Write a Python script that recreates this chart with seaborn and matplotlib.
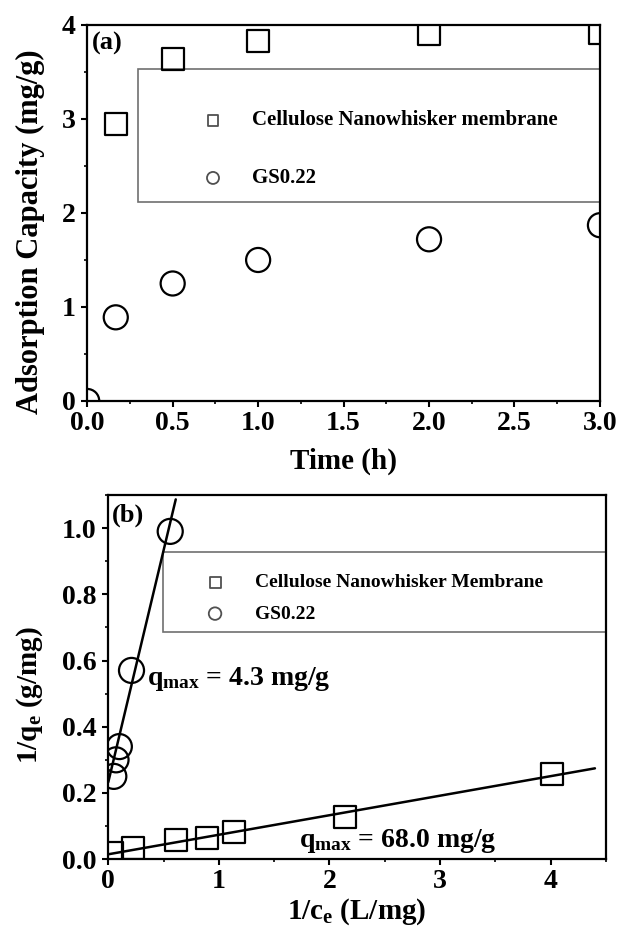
import numpy as np
import pandas as pd
import matplotlib
matplotlib.use("Agg")
import matplotlib.pyplot as plt
import seaborn as sns
from matplotlib.ticker import MultipleLocator
from matplotlib.patches import Rectangle

# ---------------- data ----------------
# (a) adsorption kinetics
time_cnw = [0.167, 0.5, 1.0, 2.0, 3.0]
cap_cnw = [2.95, 3.64, 3.83, 3.90, 3.91]
time_gs = [0.0, 0.167, 0.5, 1.0, 2.0, 3.0]
cap_gs = [0.0, 0.89, 1.25, 1.50, 1.72, 1.87]
labels_a = ["Cellulose Nanowhisker membrane", "GS0.22"]

# (b) Langmuir linearisation
inv_ce_cnw = [0.03, 0.22, 0.61, 0.89, 1.14, 2.14, 4.01]
inv_qe_cnw = [0.020, 0.033, 0.058, 0.063, 0.083, 0.128, 0.257]
inv_ce_gs = [0.05, 0.07, 0.10, 0.21, 0.56]
inv_qe_gs = [0.25, 0.30, 0.34, 0.57, 0.99]
labels_b = ["Cellulose Nanowhisker Membrane", "GS0.22"]

# fitted lines (intercept = 1/qmax, slope, x-extent)
fit_gs = dict(intercept=0.2326, slope=1.40, x=[0.0, 0.61])
fit_cnw = dict(intercept=0.0147, slope=0.0590, x=[0.0, 4.40])
qmax_texts = [r"q$_{\mathrm{max}}$ = 4.3 mg/g", r"q$_{\mathrm{max}}$ = 68.0 mg/g"]

# ---------------- style ----------------
sns.set_theme(style="ticks")
plt.rcParams["font.family"] = ["Liberation Serif", "DejaVu Serif"]
plt.rcParams["font.weight"] = "bold"
plt.rcParams["axes.labelweight"] = "bold"
plt.rcParams["text.color"] = "black"
plt.rcParams["axes.labelcolor"] = "black"
plt.rcParams["xtick.color"] = "black"
plt.rcParams["ytick.color"] = "black"
plt.rcParams["axes.edgecolor"] = "black"
plt.rcParams["mathtext.fontset"] = "custom"
plt.rcParams["mathtext.rm"] = "Liberation Serif:bold"
plt.rcParams["mathtext.it"] = "Liberation Serif:italic:bold"
plt.rcParams["mathtext.bf"] = "Liberation Serif:bold"

fig = plt.figure(figsize=(6.23, 9.36), dpi=100)
ax1 = fig.add_axes([0.140, 0.5716, 0.823, 0.4017])
ax2 = fig.add_axes([0.1738, 0.0821, 0.7989, 0.3891])

def style_axes(ax):
    for sp in ax.spines.values():
        sp.set_linewidth(1.6)
        sp.set_color("black")
    ax.tick_params(which="major", direction="out", length=4.5, width=1.5,
                   labelsize=20, top=False, right=False, colors="black")
    ax.tick_params(which="minor", direction="out", length=2.5, width=1.2,
                   top=False, right=False, colors="black")
    ax.tick_params(axis="x", which="major", pad=2.5)
    ax.tick_params(axis="y", which="major", pad=4)
    for lab in ax.get_xticklabels() + ax.get_yticklabels():
        lab.set_fontweight("bold")

# ---------------- panel (a) ----------------
df_a1 = pd.DataFrame({"t": time_cnw, "q": cap_cnw})
df_a2 = pd.DataFrame({"t": time_gs, "q": cap_gs})
sns.scatterplot(data=df_a1, x="t", y="q", marker="s", s=250, facecolors="none",
                edgecolor="black", linewidth=1.6, label=labels_a[0], ax=ax1, zorder=3)
sns.scatterplot(data=df_a2, x="t", y="q", marker="o", s=300, facecolors="none",
                edgecolor="black", linewidth=1.6, label=labels_a[1], ax=ax1, zorder=3)
ax1.set_xlim(0, 3.0)
ax1.set_ylim(0, 4)
ax1.xaxis.set_major_locator(MultipleLocator(0.5))
ax1.xaxis.set_minor_locator(MultipleLocator(0.25))
ax1.yaxis.set_major_locator(MultipleLocator(1))
ax1.yaxis.set_minor_locator(MultipleLocator(0.5))
ax1.xaxis.set_major_formatter(matplotlib.ticker.FormatStrFormatter("%.1f"))
style_axes(ax1)
ax1.set_xlabel("Time (h)", fontsize=21, fontweight="bold", color="black")
ax1.set_ylabel("Adsorption Capacity (mg/g)", fontsize=22, fontweight="bold",
               color="black")
ax1.xaxis.set_label_coords(0.5, -0.125)
ax1.xaxis.label.set_va("top")
ax1.yaxis.set_label_coords(-0.0825, 0.45)
ax1.text(0.009, 0.952, "(a)", transform=ax1.transAxes, fontsize=19,
         fontweight="bold", ha="left", va="center", color="black")

ax1.add_patch(Rectangle((0.099, 0.529), 0.901, 0.354, transform=ax1.transAxes,
                        facecolor="white", edgecolor="#707070", lw=1.2, zorder=2,
                        clip_on=False))
h, l = ax1.get_legend_handles_labels()
leg1 = ax1.legend(h, l, loc="center left", bbox_to_anchor=(0.225, 0.669),
                  frameon=False, markerscale=0.5, borderpad=0, borderaxespad=0,
                  handlelength=1.0, handletextpad=1.37, labelspacing=1.82,
                  prop=dict(family="Liberation Serif", weight="bold", size=15))
leg1.set_zorder(4)
for t in leg1.get_texts():
    t.set_color("black")
for hd in leg1.legend_handles:
    hd.set_edgecolor("#505050")
    hd.set_linewidth(1.3)

# ---------------- panel (b) ----------------
df_b1 = pd.DataFrame({"x": inv_ce_cnw, "y": inv_qe_cnw})
df_b2 = pd.DataFrame({"x": inv_ce_gs, "y": inv_qe_gs})

fx_gs = np.array(fit_gs["x"])
fx_cnw = np.array(fit_cnw["x"])
sns.lineplot(x=fx_gs, y=fit_gs["intercept"] + fit_gs["slope"] * fx_gs,
             color="black", lw=1.8, ax=ax2, zorder=3)
sns.lineplot(x=fx_cnw, y=fit_cnw["intercept"] + fit_cnw["slope"] * fx_cnw,
             color="black", lw=1.8, ax=ax2, zorder=3)

sns.scatterplot(data=df_b1, x="x", y="y", marker="s", s=250, facecolors="none",
                edgecolor="black", linewidth=1.6, label=labels_b[0], ax=ax2, zorder=4)
sns.scatterplot(data=df_b2, x="x", y="y", marker="o", s=325, facecolors="none",
                edgecolor="black", linewidth=1.6, label=labels_b[1], ax=ax2, zorder=4)
ax2.set_xlim(0, 4.5)
ax2.set_ylim(0, 1.1)
ax2.xaxis.set_major_locator(MultipleLocator(1))
ax2.xaxis.set_minor_locator(MultipleLocator(0.5))
ax2.yaxis.set_major_locator(MultipleLocator(0.2))
ax2.yaxis.set_minor_locator(MultipleLocator(0.1))
ax2.yaxis.set_major_formatter(matplotlib.ticker.FormatStrFormatter("%.1f"))
style_axes(ax2)
ax2.set_xlabel(r"1/c$_{\mathrm{e}}$ (L/mg)", fontsize=21, fontweight="bold",
               color="black")
ax2.set_ylabel(r"1/q$_{\mathrm{e}}$ (g/mg)", fontsize=21, fontweight="bold",
               color="black")
ax2.xaxis.set_label_coords(0.5, -0.102)
ax2.xaxis.label.set_va("top")
ax2.yaxis.set_label_coords(-0.127, 0.45)
ax2.text(0.007, 0.945, "(b)", transform=ax2.transAxes, fontsize=19,
         fontweight="bold", ha="left", va="center", color="black")

ax2.text(0.35, 0.525, qmax_texts[0], fontsize=20, fontweight="bold",
         ha="left", va="baseline", zorder=5, color="black")
ax2.text(1.72, 0.038, qmax_texts[1], fontsize=20, fontweight="bold",
         ha="left", va="baseline", zorder=5, color="black")

ax2.add_patch(Rectangle((0.109, 0.625), 0.891, 0.219, transform=ax2.transAxes,
                        facecolor="white", edgecolor="#707070", lw=1.2, zorder=2,
                        clip_on=False))
h, l = ax2.get_legend_handles_labels()
leg2 = ax2.legend(h, l, loc="center left", bbox_to_anchor=(0.195, 0.7165),
                  frameon=False, markerscale=0.5, borderpad=0, borderaxespad=0,
                  handlelength=1.0, handletextpad=1.56, labelspacing=0.71,
                  prop=dict(family="Liberation Serif", weight="bold", size=14))
leg2.set_zorder(4)
for t in leg2.get_texts():
    t.set_color("black")
for hd in leg2.legend_handles:
    hd.set_edgecolor("#505050")
    hd.set_linewidth(1.3)

fig.savefig("out.png", dpi=100)
